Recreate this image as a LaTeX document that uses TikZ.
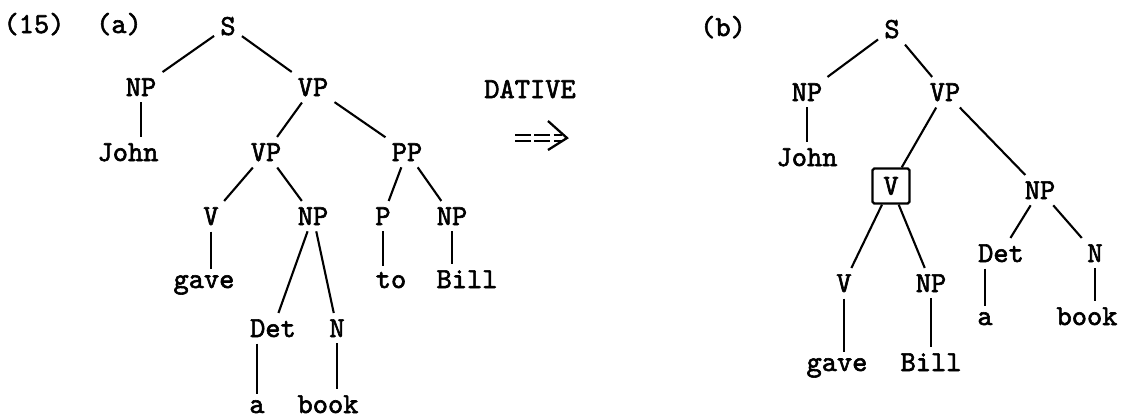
\documentclass[tikz,border=0pt]{standalone}
\usepackage{fontspec}
\newfontfamily\typew[FakeBold=2]{lmmono10-regular.otf}
\begin{document}
\begin{tikzpicture}[x=0.02cm,y=-0.02cm,line width=1.2pt]
   \tikzset{lbl/.style={font=\fontsize{16.5}{19}\selectfont\typew, anchor=base, inner sep=3pt},
            vbox/.style={lbl, anchor=center, draw, line width=1.3pt, rounded corners=1pt, inner sep=0pt, minimum width=0.74cm, minimum height=0.7cm}};
\useasboundingbox (0,0) rectangle (1125,419);

%(a)--------------------------
\node[lbl] (n15) at (34,33) {(15)};
\node[lbl] (la) at (119,33) {(a)};
\node[lbl] (sa) at (228,35) {S};
\node[lbl] (npa) at (141,96) {NP};
\node[lbl] (vpa) at (313,96) {VP};
\node[lbl] (john) at (128,161) {John};
\node[lbl] (vpb) at (266,161) {VP};
\node[lbl] (ppa) at (407,161) {PP};
\node[lbl] (va) at (211,225) {V};
\node[lbl] (npb) at (313,225) {NP};
\node[lbl] (pa) at (383,225) {P};
\node[lbl] (npc) at (452,225) {NP};
\node[lbl] (gave) at (204,288) {gave};
\node[lbl] (to) at (391,288) {to};
\node[lbl] (bill) at (467,288) {Bill};
\node[lbl] (det) at (273,337) {Det};
\node[lbl] (na) at (337,337) {N};
\node[lbl] (aa) at (257,413) {a};
\node[lbl] (book) at (328,413) {book};

%arrow-----------------------
\node[lbl] (dative) at (530,98) {DATIVE};
\coordinate (dtail) at (515,138);
\coordinate (dhead) at (567,138);

%(b)--------------------------
\node[lbl] (lb) at (723,36) {(b)};
\node[lbl] (sb) at (892,38) {S};
\node[lbl] (npd) at (807,101) {NP};
\node[lbl] (vpc) at (945,101) {VP};
\node[lbl] (johnb) at (807,166) {John};
\node[vbox] (vx) at (891,186) {V};
\node[lbl] (npe) at (1040,199) {NP};
\node[lbl] (det2) at (1001,262) {Det};
\node[lbl] (nb) at (1095,262) {N};
\node[lbl] (vb) at (844,292) {V};
\node[lbl] (npf) at (931,292) {NP};
\node[lbl] (ab) at (985,325) {a};
\node[lbl] (bookb) at (1087,325) {book};
\node[lbl] (gaveb) at (837,371) {gave};
\node[lbl] (billb) at (931,371) {Bill};

%Ea-----------------
\draw (sa) -- (npa);
\draw (sa) -- (vpa);
\draw (npa.south) -- (npa.south |- john.north);
\draw (vpa) -- (vpb);
\draw (vpa) -- (ppa);
\draw (vpb) -- (va);
\draw (vpb) -- (npb);
\draw (ppa) -- (pa);
\draw (ppa) -- (npc);
\draw (va.south) -- (va.south |- gave.north);
\draw (pa.south) -- (pa.south |- to.north);
\draw (npc.south) -- (npc.south |- bill.north);
\draw (npb) -- (det);
\draw (npb) -- (na);
\draw (aa.north |- det.south) -- (aa.north);
\draw (na.south) -- (na.south |- book.north);

%Earrow-------------
\draw[double, double distance=2.5pt, line width=0.9pt, dash pattern=on 9pt off 2pt] (dtail) -- ([xshift=-3pt]dhead);
\draw[line width=1.3pt] (dhead) ++(-19,-17) -- (dhead) -- ++(-19,12);

%Eb-----------------
\draw (sb) -- (npd);
\draw (sb) -- (vpc);
\draw (npd.south) -- (npd.south |- johnb.north);
\draw (vpc) -- (vx);
\draw (vpc) -- (npe);
\draw (vx) -- (vb);
\draw (vx) -- (npf);
\draw (npe) -- (det2);
\draw (npe) -- (nb);
\draw (ab.north |- det2.south) -- (ab.north);
\draw (nb.south) -- (nb.south |- bookb.north);
\draw (vb.south) -- (vb.south |- gaveb.north);
\draw (npf.south) -- (npf.south |- billb.north);

\end{tikzpicture}
\end{document}
